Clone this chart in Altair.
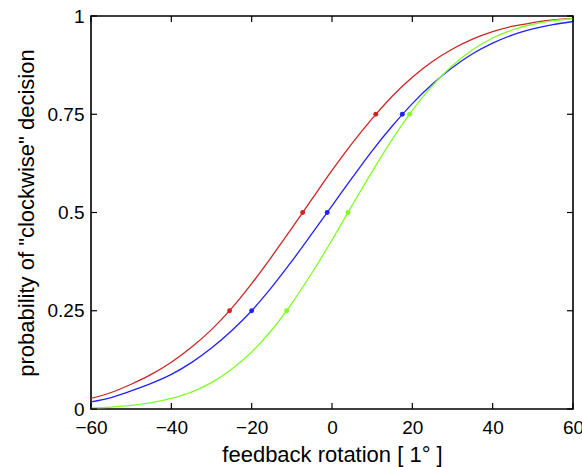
import altair as alt
import pandas as pd

# --- data ---
x_grid = [-60, -55, -50, -45, -40, -35, -30, -25, -20, -15, -10, -5, 0,
          5, 10, 15, 20, 25, 30, 35, 40, 45, 50, 55, 60]
red_y = [0.027, 0.042, 0.063, 0.088, 0.119, 0.157, 0.202, 0.256, 0.319, 0.388,
         0.460, 0.534, 0.607, 0.676, 0.739, 0.796, 0.844, 0.884, 0.916, 0.941,
         0.960, 0.974, 0.983, 0.990, 0.994]
blue_y = [0.018, 0.029, 0.046, 0.065, 0.088, 0.118, 0.155, 0.199, 0.250, 0.310,
          0.376, 0.446, 0.517, 0.588, 0.657, 0.720, 0.777, 0.827, 0.869, 0.904,
          0.931, 0.952, 0.967, 0.978, 0.986]
green_y = [0.003, 0.005, 0.009, 0.016, 0.027, 0.043, 0.067, 0.101, 0.145, 0.201,
           0.269, 0.346, 0.430, 0.518, 0.604, 0.686, 0.760, 0.823, 0.874, 0.914,
           0.944, 0.965, 0.979, 0.988, 0.993]

point_levels = [0.25, 0.5, 0.75]
red_px = [-25.5, -7.3, 10.9]
blue_px = [-20.0, -1.2, 17.5]
green_px = [-11.3, 4.0, 19.3]

series = ["red", "blue", "green"]
colors = ["#d02424", "#2020ff", "#80ff22"]

x_ticks = [-60, -40, -20, 0, 20, 40, 60]
y_ticks = [0, 0.25, 0.5, 0.75, 1]

# --- tables ---
curves = pd.concat([
    pd.DataFrame({"x": x_grid, "y": ys, "s": name})
    for name, ys in zip(series, [red_y, blue_y, green_y])
])
points = pd.concat([
    pd.DataFrame({"x": xs, "y": point_levels, "s": name})
    for name, xs in zip(series, [red_px, blue_px, green_px])
])
xt = pd.DataFrame({"v": x_ticks})
yt = pd.DataFrame({"v": y_ticks})

W, H = 482, 393
FONT = "Liberation Sans"

xscale = alt.Scale(domain=[-60, 60], nice=False, zero=False)
yscale = alt.Scale(domain=[0, 1], nice=False, zero=False)
cscale = alt.Scale(domain=series, range=colors)

xaxis = alt.Axis(values=x_ticks, format="d", ticks=False, tickSize=0, domain=False,
                 grid=False, labelPadding=24, labelBaseline="alphabetic",
                 labelFontSize=19, labelFont=FONT,
                 labelColor="black", title="feedback rotation [ 1° ]",
                 titleFontSize=22, titleFont=FONT, titleFontWeight="normal",
                 titleColor="black", titleY=52, titleBaseline="alphabetic",
                 labelFlush=False, labelOverlap=False)
yaxis = alt.Axis(values=y_ticks, labelExpr="toString(datum.value)",
                 ticks=False, tickSize=0, domain=False,
                 grid=False, labelPadding=7, labelFontSize=19, labelFont=FONT,
                 labelColor="black", title='probability of "clockwise" decision',
                 titleFontSize=22, titleFont=FONT, titleFontWeight="normal",
                 titleColor="black", titleX=-58, titleY=H / 2,
                 titleBaseline="alphabetic", titleAngle=-90,
                 labelFlush=False, labelOverlap=False)

lines = alt.Chart(curves).mark_line(strokeWidth=1.3, interpolate="monotone").encode(
    x=alt.X("x:Q", scale=xscale, axis=xaxis),
    y=alt.Y("y:Q", scale=yscale, axis=yaxis),
    color=alt.Color("s:N", scale=cscale, legend=None),
    detail="s:N",
)
dots = alt.Chart(points).mark_circle(size=24, opacity=1).encode(
    x=alt.X("x:Q", scale=xscale),
    y=alt.Y("y:Q", scale=yscale),
    color=alt.Color("s:N", scale=cscale, legend=None),
)

tk = dict(color="black", strokeWidth=1.2)
bottom_t = alt.Chart(xt).mark_rule(**tk).encode(
    x=alt.X("v:Q", scale=xscale), y=alt.value(H), y2=alt.value(H - 6))
top_t = alt.Chart(xt).mark_rule(**tk).encode(
    x=alt.X("v:Q", scale=xscale), y=alt.value(0), y2=alt.value(6))
left_t = alt.Chart(yt).mark_rule(**tk).encode(
    y=alt.Y("v:Q", scale=yscale), x=alt.value(0), x2=alt.value(6))
right_t = alt.Chart(yt).mark_rule(**tk).encode(
    y=alt.Y("v:Q", scale=yscale), x=alt.value(W), x2=alt.value(W - 6))

chart = alt.layer(lines, dots, bottom_t, top_t, left_t, right_t).properties(
    width=W, height=H,
    autosize=alt.AutoSizeParams(type="none"),
    padding={"left": 91, "top": 16, "right": 9, "bottom": 58},
    background="white",
).configure_view(stroke="black", strokeWidth=1.6)

chart.save("out.html", embed_options={"renderer": "svg", "actions": False})
